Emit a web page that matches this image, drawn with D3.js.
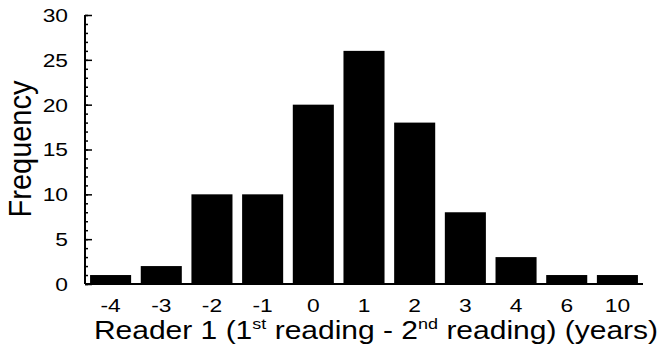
<!DOCTYPE html>
<html>
<head>
<meta charset="utf-8">
<script src="https://cdn.jsdelivr.net/npm/d3@7"></script>
<style>
  body { margin: 0; background: #fff; }
  text { font-family: "Liberation Sans", Arial, sans-serif; fill: #000; }
</style>
</head>
<body>
<div id="chart"></div>
<script>
const categories = ["-4", "-3", "-2", "-1", "0", "1", "2", "3", "4", "6", "10"];
const frequency = [1, 2, 10, 10, 20, 26, 18, 8, 3, 1, 1];
const yTicks = [0, 5, 10, 15, 20, 25, 30];

const data = categories.map((c, i) => ({ cat: c, value: frequency[i] }));

const width = 659, height = 349;
const x0 = 85, x1 = 643, yBottom = 284, yTop = 15;
const stretch = 1.2; // the original text is a bit wide

const svg = d3.select("#chart")
  .append("svg")
    .attr("width", width)
    .attr("height", height);

const x = d3.scaleBand()
  .domain(categories)
  .range([x0, x1])
  .paddingInner(0.19)
  .paddingOuter(0.1);

const y = d3.scaleLinear()
  .domain([0, 30])
  .range([yBottom, yTop]);

// bars
svg.selectAll("rect.bar")
  .data(data)
  .enter()
  .append("rect")
    .attr("class", "bar")
    .attr("x", d => x(d.cat))
    .attr("y", d => y(d.value))
    .attr("width", x.bandwidth())
    .attr("height", d => yBottom - y(d.value))
    .attr("fill", "#000");

// y axis: minor ticks every 1, major every 5, pointing inward
const yAxisG = svg.append("g").attr("transform", `translate(${x0},0)`);
yAxisG.call(d3.axisRight(y).tickValues(d3.range(0, 31)).tickSize(3).tickFormat(""))
  .call(g => g.select(".domain").remove());
yAxisG.append("g")
  .call(d3.axisRight(y).tickValues(yTicks).tickSize(7).tickFormat(""))
  .call(g => g.select(".domain").remove());
yAxisG.selectAll("line").attr("stroke", "#000").attr("stroke-width", 1.5);

yAxisG.selectAll("text.ylab")
  .data(yTicks)
  .enter()
  .append("text")
    .attr("class", "ylab")
    .attr("transform", d => `translate(-17,${y(d)}) scale(${stretch},1)`)
    .attr("dy", "0.36em")
    .attr("text-anchor", "end")
    .style("font-size", "19px")
    .text(d => d);

// axis lines
svg.append("line")
  .attr("x1", x0).attr("x2", x0)
  .attr("y1", yTop).attr("y2", yBottom)
  .attr("stroke", "#000").attr("stroke-width", 2);
svg.append("line")
  .attr("x1", x0).attr("x2", x1)
  .attr("y1", yBottom).attr("y2", yBottom)
  .attr("stroke", "#000").attr("stroke-width", 2);

// x tick labels
svg.selectAll("text.xlab")
  .data(categories)
  .enter()
  .append("text")
    .attr("class", "xlab")
    .attr("transform", d => `translate(${x(d) + x.bandwidth() / 2},312) scale(${stretch},1)`)
    .attr("text-anchor", "middle")
    .style("font-size", "19px")
    .text(d => d);

// y title
svg.append("text")
  .attr("transform", `translate(31,149) scale(1.05,1) rotate(-90)`)
  .attr("text-anchor", "middle")
  .style("font-size", "29px")
  .text("Frequency");

// x title with superscripts
const xt = svg.append("text")
  .attr("transform", `translate(376,339) scale(${stretch},1)`)
  .attr("text-anchor", "middle")
  .style("font-size", "25px");
xt.append("tspan").text("Reader 1 (1");
xt.append("tspan").attr("dy", -10).style("font-size", "15px").text("st");
xt.append("tspan").attr("dy", 10).text(" reading - 2");
xt.append("tspan").attr("dy", -10).style("font-size", "15px").text("nd");
xt.append("tspan").attr("dy", 10).text(" reading) (years)");
</script>
</body>
</html>
